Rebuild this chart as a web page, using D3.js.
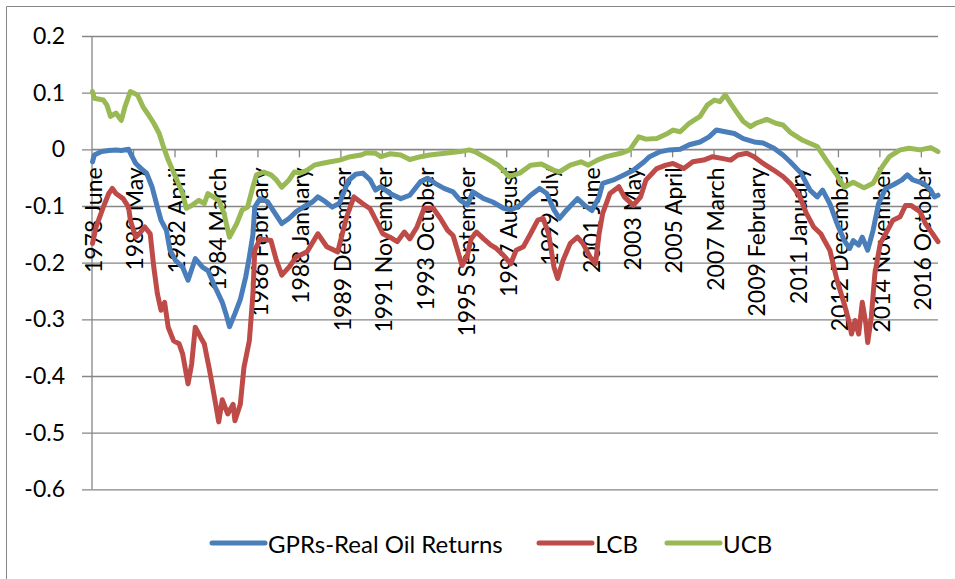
<!DOCTYPE html>
<html><head><meta charset="utf-8">
<script src="https://cdn.jsdelivr.net/npm/d3@7"></script>
<style>body{margin:0;background:#fff}svg{display:block}text{font-family:Lato,"Liberation Sans",sans-serif;fill:#000}</style>
</head><body><svg id="c" width="955" height="579"></svg>
<script>
const monthCount = 470; // 1978 June .. 2017 July, monthly
const tickEvery = 23;
const tickLabels = ["1978 June","1980 May","1982 April","1984 March","1986 February","1988 January","1989 December","1991 November","1993 October","1995 September","1997 August","1999 July","2001 June","2003 May","2005 April","2007 March","2009 February","2011 January","2012 December","2014 November","2016 October"];
const yTicks = [0.2,0.1,0,-0.1,-0.2,-0.3,-0.4,-0.5,-0.6];
const seriesNames = ["GPRs-Real Oil Returns","LCB","UCB"];
const seriesColors = ["#4A7EBB","#BE4B48","#98B954"];

// [month index, value]
const gpr = [[0,-0.022],[1,-0.010],[5,-0.004],[9,-0.002],[13,-0.001],[16,-0.002],[20,0.000],[22,-0.013],[24,-0.025],[27,-0.034],[30,-0.042],[33,-0.066],[36,-0.102],[38,-0.125],[41,-0.143],[43,-0.178],[46,-0.196],[50,-0.208],[53,-0.231],[57,-0.193],[61,-0.208],[64,-0.214],[68,-0.243],[72,-0.270],[74,-0.290],[76,-0.313],[79,-0.290],[82,-0.265],[85,-0.225],[87,-0.190],[89,-0.150],[90,-0.102],[93,-0.087],[97,-0.092],[100,-0.107],[105,-0.131],[109,-0.122],[113,-0.110],[118,-0.100],[122,-0.093],[125,-0.084],[129,-0.092],[133,-0.102],[137,-0.095],[142,-0.055],[146,-0.044],[150,-0.042],[154,-0.054],[157,-0.072],[160,-0.066],[165,-0.078],[171,-0.087],[176,-0.081],[182,-0.057],[186,-0.051],[190,-0.060],[195,-0.069],[200,-0.075],[204,-0.090],[208,-0.098],[211,-0.075],[217,-0.087],[222,-0.093],[228,-0.104],[232,-0.107],[237,-0.099],[243,-0.081],[248,-0.069],[252,-0.078],[256,-0.107],[259,-0.122],[263,-0.107],[269,-0.087],[273,-0.099],[277,-0.108],[281,-0.084],[283,-0.060],[289,-0.054],[295,-0.045],[300,-0.037],[306,-0.022],[309,-0.013],[315,-0.004],[320,-0.001],[326,0.000],[331,0.008],[337,0.013],[342,0.022],[346,0.034],[351,0.031],[356,0.028],[361,0.019],[367,0.013],[372,0.011],[378,0.002],[383,-0.010],[387,-0.022],[393,-0.042],[398,-0.072],[402,-0.084],[405,-0.072],[409,-0.096],[413,-0.131],[417,-0.161],[420,-0.175],[422,-0.161],[425,-0.169],[427,-0.155],[430,-0.178],[433,-0.143],[436,-0.096],[440,-0.069],[444,-0.063],[449,-0.054],[452,-0.045],[455,-0.054],[461,-0.060],[465,-0.072],[467,-0.084],[469,-0.081]];

const lcb = [[0,-0.166],[2,-0.137],[6,-0.102],[9,-0.078],[11,-0.069],[13,-0.078],[17,-0.087],[20,-0.102],[21,-0.125],[24,-0.155],[26,-0.149],[29,-0.137],[32,-0.149],[34,-0.208],[36,-0.255],[38,-0.284],[40,-0.270],[42,-0.314],[45,-0.338],[48,-0.343],[50,-0.361],[53,-0.414],[55,-0.379],[57,-0.314],[60,-0.332],[62,-0.343],[65,-0.391],[68,-0.444],[70,-0.481],[72,-0.442],[75,-0.467],[78,-0.450],[79,-0.479],[82,-0.450],[84,-0.385],[87,-0.338],[89,-0.255],[90,-0.178],[93,-0.158],[99,-0.161],[102,-0.196],[105,-0.222],[109,-0.208],[113,-0.190],[119,-0.181],[125,-0.149],[130,-0.172],[136,-0.181],[141,-0.119],[145,-0.084],[150,-0.096],[154,-0.105],[158,-0.130],[161,-0.149],[165,-0.155],[169,-0.163],[173,-0.146],[176,-0.158],[180,-0.137],[184,-0.104],[189,-0.104],[193,-0.122],[197,-0.143],[200,-0.152],[203,-0.184],[205,-0.205],[208,-0.187],[210,-0.158],[213,-0.146],[217,-0.158],[221,-0.169],[224,-0.175],[228,-0.187],[232,-0.202],[235,-0.178],[239,-0.172],[243,-0.149],[247,-0.125],[250,-0.122],[253,-0.149],[256,-0.208],[258,-0.228],[261,-0.196],[265,-0.166],[269,-0.155],[272,-0.166],[276,-0.190],[279,-0.202],[281,-0.149],[283,-0.113],[287,-0.078],[292,-0.066],[295,-0.084],[300,-0.099],[304,-0.084],[307,-0.054],[313,-0.034],[318,-0.028],[322,-0.025],[328,-0.034],[333,-0.022],[339,-0.019],[344,-0.013],[349,-0.016],[354,-0.019],[358,-0.010],[363,-0.007],[367,-0.013],[372,-0.025],[378,-0.037],[383,-0.048],[387,-0.060],[392,-0.081],[396,-0.113],[400,-0.137],[404,-0.149],[406,-0.161],[409,-0.178],[413,-0.231],[417,-0.273],[420,-0.308],[421,-0.326],[423,-0.302],[425,-0.326],[427,-0.270],[429,-0.308],[430,-0.341],[432,-0.296],[434,-0.219],[437,-0.166],[441,-0.143],[444,-0.125],[448,-0.119],[451,-0.099],[454,-0.099],[459,-0.110],[462,-0.131],[466,-0.149],[469,-0.163]];

const ucb = [[0,0.102],[1,0.090],[6,0.087],[8,0.078],[10,0.058],[13,0.064],[16,0.051],[18,0.075],[21,0.102],[25,0.096],[28,0.075],[31,0.061],[34,0.046],[37,0.028],[39,0.008],[42,-0.019],[46,-0.048],[50,-0.078],[52,-0.104],[55,-0.099],[59,-0.090],[62,-0.096],[64,-0.078],[67,-0.084],[70,-0.090],[73,-0.113],[74,-0.128],[76,-0.155],[80,-0.131],[83,-0.107],[86,-0.102],[89,-0.066],[91,-0.045],[95,-0.040],[99,-0.045],[102,-0.054],[105,-0.067],[109,-0.054],[112,-0.040],[115,-0.042],[119,-0.037],[123,-0.028],[127,-0.025],[132,-0.022],[137,-0.019],[143,-0.013],[149,-0.010],[152,-0.006],[157,-0.007],[160,-0.013],[165,-0.008],[171,-0.010],[176,-0.018],[182,-0.013],[187,-0.010],[193,-0.008],[198,-0.006],[204,-0.004],[209,-0.001],[212,-0.004],[217,-0.013],[222,-0.022],[225,-0.028],[228,-0.037],[231,-0.048],[233,-0.046],[237,-0.042],[243,-0.028],[249,-0.026],[256,-0.037],[259,-0.040],[265,-0.028],[271,-0.022],[275,-0.028],[280,-0.019],[285,-0.013],[293,-0.007],[298,-0.001],[303,0.022],[307,0.018],[313,0.019],[319,0.028],[322,0.034],[326,0.031],[331,0.046],[337,0.058],[341,0.078],[345,0.087],[348,0.084],[351,0.096],[354,0.081],[357,0.067],[361,0.049],[365,0.040],[368,0.046],[374,0.053],[379,0.046],[383,0.043],[387,0.030],[394,0.016],[402,0.005],[407,-0.019],[413,-0.046],[417,-0.067],[422,-0.058],[428,-0.068],[433,-0.060],[438,-0.031],[442,-0.013],[448,-0.001],[453,0.002],[459,-0.001],[465,0.003],[469,-0.004]];

const svg = d3.select("#c");
const gridColor = "#868686";

// chart area border
svg.append("path").attr("d","M6.5,579V6.5H955").attr("fill","none").attr("stroke",gridColor).attr("stroke-width",1);

const x = d3.scaleLinear().domain([0, monthCount - 1]).range([92.5, 938]);
const y = d3.scaleLinear().domain([-0.6, 0.2]).range([489.3, 36]);

// y gridlines + labels
const yAxis = d3.axisLeft(y).tickValues(yTicks).tickSize(-(938 - 82)).tickPadding(17).tickFormat(d => String(d));
const gy = svg.append("g").attr("transform","translate(82,0)").call(yAxis);
gy.select(".domain").remove();
gy.selectAll(".tick line").attr("stroke",gridColor).attr("stroke-width",1.3);
gy.selectAll(".tick text").attr("font-size",23).attr("fill","#000").attr("font-family","Lato, 'Liberation Sans', sans-serif");

// y axis line
svg.append("line").attr("x1",92).attr("x2",92).attr("y1",y(0.2)).attr("y2",y(-0.6)).attr("stroke",gridColor).attr("stroke-width",1.3);

// category axis at value 0: tick marks
const tickIdx = d3.range(0, tickLabels.length).map(k => k * tickEvery - 0.5).filter(v => v > 0);
const gx = svg.append("g").attr("transform",`translate(0,${y(0)})`)
  .call(d3.axisBottom(x).tickValues(tickIdx).tickSize(8).tickFormat(""));
gx.select(".domain").attr("stroke",gridColor).attr("stroke-width",1.3).attr("d",`M92,0H938`);
gx.selectAll(".tick line").attr("stroke",gridColor).attr("stroke-width",1.3);

// category labels
const labelIdx = tickLabels.map((d,k) => k * tickEvery);
const gl = svg.append("g").attr("transform",`translate(0,${y(0)})`)
  .call(d3.axisBottom(x).tickValues(labelIdx).tickSize(0).tickFormat((d,i) => tickLabels[i]));
gl.select(".domain").remove();
gl.selectAll(".tick text")
  .attr("font-size",23).attr("fill","#000").attr("font-family","Lato, 'Liberation Sans', sans-serif")
  .attr("text-anchor","end").attr("dy",null).attr("y",0)
  .attr("dominant-baseline","central")
  .attr("transform","translate(0,18) rotate(-90)");

// lines
const line = d3.line().x(d => x(d[0])).y(d => y(d[1]));
[gpr, lcb, ucb].forEach((s, i) => {
  svg.append("path").datum(s).attr("d", line).attr("fill","none")
    .attr("stroke", seriesColors[i]).attr("stroke-width",5)
    .attr("stroke-linejoin","round").attr("stroke-linecap","round");
});

// legend
const legend = [{x1:212,x2:265,tx:268},{x1:539,x2:592,tx:595},{x1:667,x2:720,tx:723}];
const ly = 543;
legend.forEach((l, i) => {
  svg.append("line").attr("x1",l.x1).attr("x2",l.x2).attr("y1",ly).attr("y2",ly)
    .attr("stroke",seriesColors[i]).attr("stroke-width",5).attr("stroke-linecap","round");
  svg.append("text").attr("x",l.tx).attr("y",ly).attr("dominant-baseline","central")
    .attr("font-size",24).text(seriesNames[i]);
});
</script></body></html>
